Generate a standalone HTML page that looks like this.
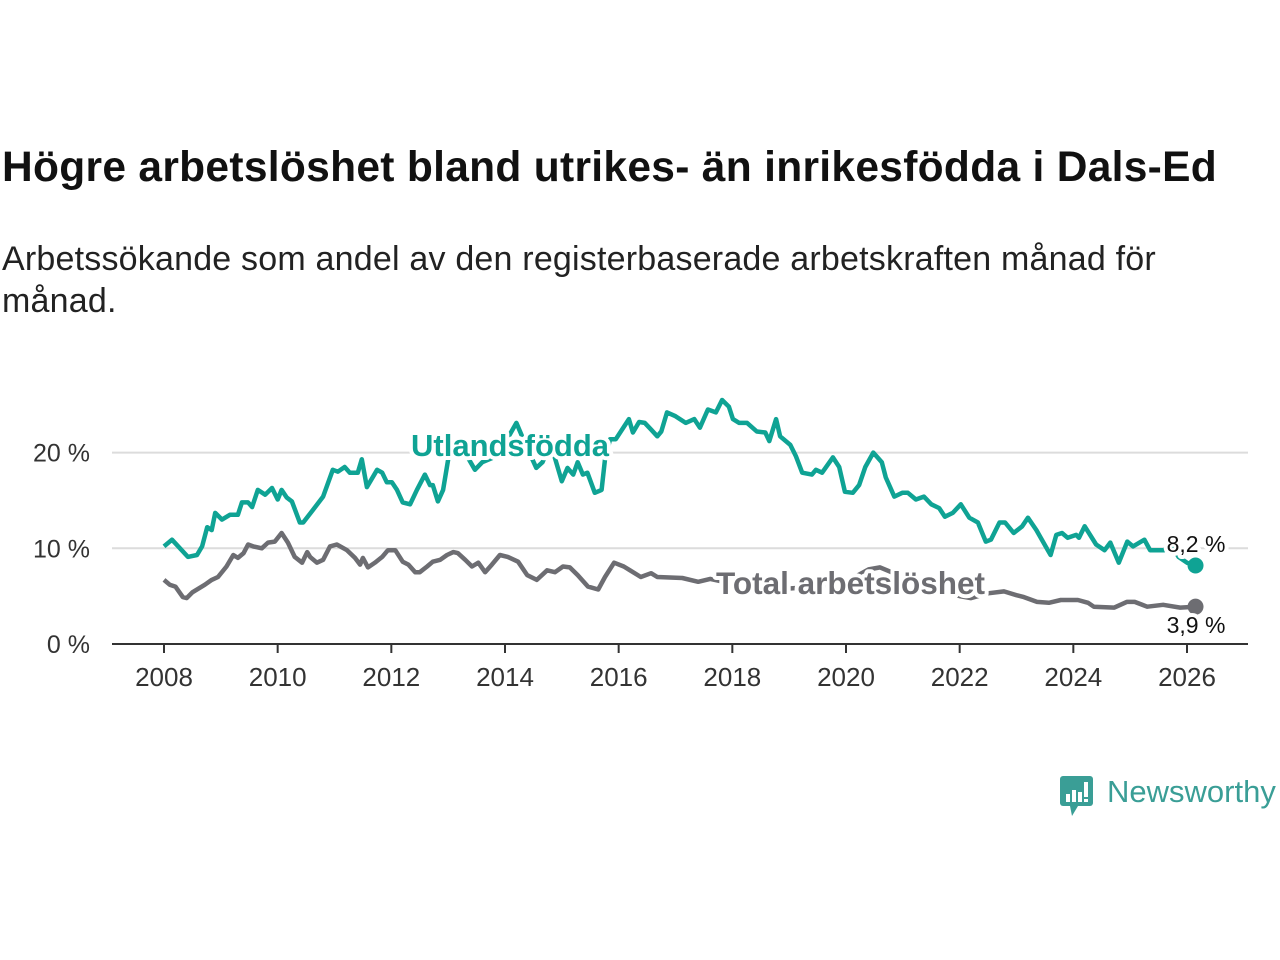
<!DOCTYPE html>
<html><head><meta charset="utf-8"><style>
body{margin:0;background:#fff;width:1280px;height:960px;overflow:hidden;font-family:"Liberation Sans",sans-serif;}
#title{position:absolute;left:2px;top:144px;font-size:42.5px;font-weight:bold;color:#111;white-space:nowrap;letter-spacing:0.3px}
#sub{position:absolute;left:2px;top:238px;font-size:34px;color:#222;line-height:42px;width:1260px;letter-spacing:0.2px}
#logo{position:absolute;left:1058px;top:772px}
</style></head><body>
<div id="title">Högre arbetslöshet bland utrikes- än inrikesfödda i Dals-Ed</div>
<div id="sub">Arbetssökande som andel av den registerbaserade arbetskraften månad för<br>månad.</div>
<svg id="chart" width="1280" height="960" style="position:absolute;left:0;top:0"></svg>
<div id="logo">
<svg width="222" height="50"><rect x="2" y="4" width="33" height="30" rx="3" fill="#3a9e96"/><path d="M12 34 L20 34 L14 44 Z" fill="#3a9e96"/>
<rect x="8" y="22" width="4" height="8" fill="#fff"/><rect x="14" y="18" width="4" height="12" fill="#fff"/><rect x="20" y="20" width="4" height="10" fill="#fff"/><rect x="26" y="10" width="4" height="15" fill="#fff"/><rect x="26" y="27" width="4" height="3" fill="#fff"/>
<text x="49" y="30" font-size="31" fill="#3a9e96" font-family="Liberation Sans, sans-serif">Newsworthy</text></svg></div>
<script>
const yearsG=[2008.0,2008.14,2008.42,2008.58,2008.67,2008.76,2008.84,2008.9,2009.02,2009.16,2009.3,2009.37,2009.48,2009.55,2009.65,2009.78,2009.9,2010.0,2010.07,2010.16,2010.25,2010.39,2010.45,2010.62,2010.8,2010.97,2011.06,2011.18,2011.27,2011.41,2011.48,2011.57,2011.75,2011.84,2011.92,2012.01,2012.1,2012.2,2012.33,2012.45,2012.59,2012.68,2012.73,2012.82,2012.91,2013.0,2013.2,2013.47,2013.6,2013.8,2014.0,2014.2,2014.35,2014.55,2014.66,2014.8,2015.0,2015.1,2015.2,2015.28,2015.37,2015.45,2015.58,2015.7,2015.76,2015.85,2015.95,2016.18,2016.25,2016.36,2016.46,2016.57,2016.68,2016.75,2016.85,2017.0,2017.18,2017.33,2017.43,2017.57,2017.71,2017.82,2017.94,2018.01,2018.12,2018.26,2018.43,2018.58,2018.65,2018.77,2018.84,2019.02,2019.12,2019.23,2019.4,2019.47,2019.58,2019.77,2019.88,2019.98,2020.12,2020.23,2020.34,2020.48,2020.63,2020.7,2020.85,2020.99,2021.09,2021.23,2021.37,2021.5,2021.64,2021.74,2021.88,2022.02,2022.17,2022.32,2022.46,2022.55,2022.7,2022.8,2022.95,2023.1,2023.2,2023.35,2023.55,2023.6,2023.7,2023.8,2023.9,2024.05,2024.1,2024.2,2024.4,2024.55,2024.65,2024.8,2024.95,2025.05,2025.25,2025.35,2025.6,2025.7,2025.85,2026.0,2026.15];
const valuesG=[10.2,10.9,9.1,9.3,10.2,12.2,11.9,13.7,13.0,13.5,13.5,14.8,14.8,14.3,16.1,15.6,16.3,15.1,16.1,15.3,14.9,12.7,12.7,14.0,15.4,18.2,18.0,18.5,17.9,17.9,19.3,16.4,18.2,17.9,16.9,16.9,16.1,14.8,14.6,16.1,17.7,16.6,16.6,14.9,16.1,19.3,21.0,18.2,19.0,19.5,21.0,23.1,21.0,18.4,19.0,21.0,17.0,18.4,17.7,19.0,17.7,17.9,15.8,16.1,19.3,21.4,21.4,23.5,22.1,23.2,23.1,22.4,21.7,22.2,24.2,23.8,23.1,23.5,22.6,24.5,24.2,25.5,24.8,23.5,23.1,23.1,22.2,22.1,21.2,23.5,21.7,20.8,19.6,17.9,17.7,18.2,17.9,19.5,18.5,15.9,15.8,16.6,18.5,20.0,19.0,17.4,15.4,15.8,15.8,15.1,15.4,14.6,14.2,13.3,13.7,14.6,13.2,12.7,10.7,10.9,12.7,12.7,11.6,12.3,13.2,11.9,9.8,9.3,11.4,11.6,11.1,11.4,11.1,12.3,10.4,9.8,10.6,8.5,10.7,10.2,10.9,9.8,9.8,10.6,9.1,8.5,8.2];
const yearsT=[2008.0,2008.1,2008.2,2008.33,2008.4,2008.5,2008.72,2008.84,2008.95,2009.1,2009.22,2009.3,2009.4,2009.48,2009.57,2009.72,2009.83,2009.95,2010.07,2010.18,2010.3,2010.43,2010.52,2010.57,2010.69,2010.8,2010.92,2011.04,2011.22,2011.36,2011.45,2011.5,2011.59,2011.71,2011.84,2011.94,2012.07,2012.2,2012.3,2012.42,2012.5,2012.63,2012.73,2012.86,2012.98,2013.09,2013.17,2013.3,2013.42,2013.53,2013.65,2013.77,2013.91,2014.05,2014.23,2014.39,2014.56,2014.74,2014.88,2015.02,2015.14,2015.28,2015.46,2015.64,2015.76,2015.92,2016.09,2016.2,2016.39,2016.57,2016.68,2017.12,2017.4,2017.61,2018.0,2018.5,2019.0,2019.5,2020.0,2020.4,2020.6,2021.0,2021.5,2022.0,2022.2,2022.5,2022.78,2023.0,2023.13,2023.36,2023.57,2023.78,2024.08,2024.26,2024.36,2024.72,2024.94,2025.08,2025.3,2025.58,2025.88,2026.15];
const valuesT=[6.7,6.2,6.0,4.9,4.8,5.4,6.2,6.7,7.0,8.1,9.3,9.0,9.5,10.4,10.2,10.0,10.6,10.7,11.6,10.6,9.1,8.5,9.6,9.1,8.5,8.8,10.2,10.4,9.8,9.0,8.3,9.0,8.0,8.5,9.1,9.8,9.8,8.6,8.3,7.5,7.5,8.1,8.6,8.8,9.3,9.6,9.5,8.8,8.1,8.5,7.5,8.3,9.3,9.1,8.6,7.2,6.7,7.7,7.5,8.1,8.0,7.2,6.0,5.7,7.0,8.5,8.1,7.7,7.0,7.4,7.0,6.9,6.5,6.8,6.3,6.0,5.8,6.0,6.5,7.8,8.0,7.0,6.0,5.0,4.8,5.3,5.5,5.1,4.9,4.4,4.3,4.6,4.6,4.3,3.9,3.8,4.4,4.4,3.9,4.1,3.8,3.9];
const yTicks=[0,10,20];
const xTicks=[2008,2010,2012,2014,2016,2018,2020,2022,2024,2026];
const NS="http://www.w3.org/2000/svg";
const svg=document.getElementById('chart');
const X=y=>164+(y-2008)*(1187-164)/18;
const Y=v=>644-v*9.57;
function mk(t,a,p){const e=document.createElementNS(NS,t);for(const k in a)e.setAttribute(k,a[k]);(p||svg).appendChild(e);return e;}
yTicks.forEach(v=>{
 if(v>0){const g=mk('line',{x1:112,x2:1248,y1:Y(v),y2:Y(v),stroke:'#dcdcdc','stroke-width':2});
 
 }
 const t=mk('text',{x:90,y:Y(v)+9,'text-anchor':'end','font-size':25,fill:'#333'});t.textContent=v+' %';
 
 
});
const ax=mk('line',{x1:112,x2:1248,y1:644,y2:644,stroke:'#333','stroke-width':2});


xTicks.forEach(y=>{
 const l=mk('line',{x1:X(y),x2:X(y),y1:644,y2:653,stroke:'#333','stroke-width':2});
 
 
 const t=mk('text',{x:X(y),y:686,'text-anchor':'middle','font-size':26,fill:'#333'});t.textContent=y;
 
 
});
function line(ys,vs,col,name){
 const d=ys.map((y,i)=>(i?'L':'M')+X(y).toFixed(1)+' '+Y(vs[i]).toFixed(1)).join(' ');
 const p=mk('path',{d:d,fill:'none',stroke:col,'stroke-width':4.5,'stroke-linejoin':'round'});
 
 
 const n=ys.length-1;
 const c=mk('circle',{cx:X(ys[n]),cy:Y(vs[n]),r:8,fill:col});
 
 
}
line(yearsT,valuesT,'#6d6d72','total-line');
line(yearsG,valuesG,'#0fa394','foreign-born-line');
function lab(x,y,txt,col,sz,w,anchor,name){
 const t=mk('text',{x:x,y:y,'font-size':sz,'font-weight':w,fill:col,'text-anchor':anchor,stroke:'#fff','stroke-width':8,'paint-order':'stroke','stroke-linejoin':'round'});
 t.textContent=txt;
 
 
}
lab(411,456,'Utlandsfödda','#0fa394',31,'bold','start','foreign-born-label');
lab(716,594,'Total arbetslöshet','#6d6d72',31.5,'bold','start','total-label');
lab(1196,552,'8,2 %','#111',23,'normal','middle','foreign-born-end-value');
lab(1196,633,'3,9 %','#111',23,'normal','middle','total-end-value');
</script>
</body></html>
